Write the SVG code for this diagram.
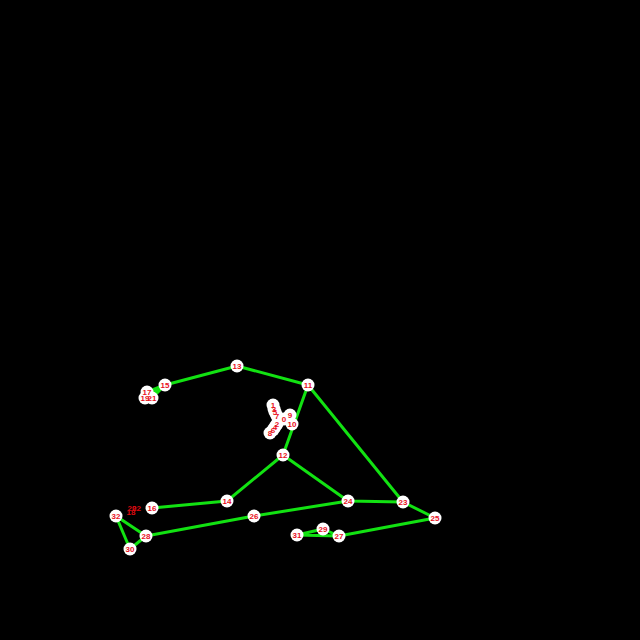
<svg xmlns="http://www.w3.org/2000/svg" width="640" height="640" viewBox="0 0 640 640">
<style>
.e{stroke:#12e212;stroke-width:3;fill:none;stroke-linejoin:round}
circle{fill:#fff}
text{fill:#e8101c;font:bold 8px "Liberation Sans",sans-serif;text-anchor:middle;dominant-baseline:central}
.d{fill:#d80a10}
</style>
<rect width="640" height="640" fill="#000"/>
<g id="connectors">
<path class="e" d="M165 385L237 366L308 385L283 455L227 501L152 508"/>
<path class="e" d="M308 385L403 502L435 518L339 536L297 535L323 529L339 536"/>
<path class="e" d="M283 455L348 501L403 502"/>
<path class="e" d="M348 501L254 516L146 536L116 516L130 549L146 536"/>
<path class="e" d="M165 385L147 392M165 385L145 398M165 385L152 398"/>
<path d="M162 386L152 389L155 396Z" fill="#12e212"/>
</g>
<g id="cluster-backs">
<circle cx="273" cy="405" r="6.500"/><circle cx="274" cy="409" r="6.500"/><circle cx="275" cy="412" r="6.500"/><circle cx="277" cy="416" r="6.500"/>
<circle cx="277" cy="424" r="6.500"/><circle cx="275" cy="427" r="6.500"/><circle cx="273" cy="430" r="6.500"/><circle cx="270" cy="433" r="6.500"/>
<circle cx="284" cy="419" r="6.500"/><circle cx="290" cy="415" r="6.500"/><circle cx="292" cy="424" r="6.500"/>
<circle cx="147" cy="392" r="6.500"/><circle cx="145" cy="398" r="6.500"/><circle cx="152" cy="398" r="6.500"/>
</g>
<g id="n1"><text x="273" y="405">1</text></g>
<g id="n3"><text x="274" y="409">3</text></g>
<g id="n5"><text x="275" y="412">5</text></g>
<g id="n7"><text x="277" y="416">7</text></g>
<g id="n2"><text x="277" y="424">2</text></g>
<g id="n4"><text x="275" y="427">4</text></g>
<g id="n6"><text x="273" y="430">6</text></g>
<g id="n8"><text x="270" y="433">8</text></g>
<g id="n0"><text x="284" y="419">0</text></g>
<g id="n9"><text x="290" y="415">9</text></g>
<g id="n10"><text x="292" y="424">10</text></g>
<g id="n11"><circle cx="308" cy="385" r="6.500"/><text x="308" y="385">11</text></g>
<g id="n12"><circle cx="283" cy="455" r="6.500"/><text x="283" y="455">12</text></g>
<g id="n13"><circle cx="237" cy="366" r="6.500"/><text x="237" y="366">13</text></g>
<g id="n14"><circle cx="227" cy="501" r="6.500"/><text x="227" y="501">14</text></g>
<g id="n15"><circle cx="165" cy="385" r="6.500"/><text x="165" y="385">15</text></g>
<g id="n16"><circle cx="152" cy="508" r="6.500"/><text x="152" y="508">16</text></g>
<g id="n17"><text x="147" y="392">17</text></g>
<g id="n19"><text x="145" y="398">19</text></g>
<g id="n21"><text x="152" y="398">21</text></g>
<g id="n18"><text class="d" x="131" y="512.500">18</text></g>
<g id="n20"><text class="d" x="132" y="508.500">20</text></g>
<g id="n22"><text class="d" x="136.500" y="508.500">22</text></g>
<g id="n23"><circle cx="403" cy="502" r="6.500"/><text x="403" y="502">23</text></g>
<g id="n24"><circle cx="348" cy="501" r="6.500"/><text x="348" y="501">24</text></g>
<g id="n25"><circle cx="435" cy="518" r="6.500"/><text x="435" y="518">25</text></g>
<g id="n26"><circle cx="254" cy="516" r="6.500"/><text x="254" y="516">26</text></g>
<g id="n27"><circle cx="339" cy="536" r="6.500"/><text x="339" y="536">27</text></g>
<g id="n28"><circle cx="146" cy="536" r="6.500"/><text x="146" y="536">28</text></g>
<g id="n29"><circle cx="323" cy="529" r="6.500"/><text x="323" y="529">29</text></g>
<g id="n30"><circle cx="130" cy="549" r="6.500"/><text x="130" y="549">30</text></g>
<g id="n31"><circle cx="297" cy="535" r="6.500"/><text x="297" y="535">31</text></g>
<g id="n32"><circle cx="116" cy="516" r="6.500"/><text x="116" y="516">32</text></g>
</svg>
